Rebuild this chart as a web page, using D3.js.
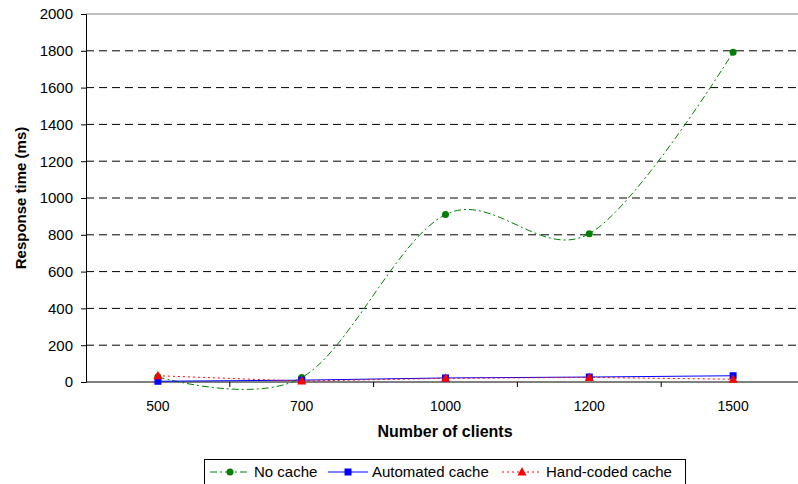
<!DOCTYPE html>
<html>
<head>
<meta charset="utf-8">
<script src="https://cdn.jsdelivr.net/npm/d3@7"></script>
<style>
body { margin: 0; background: #fff; }
svg { display: block; font-family: "Liberation Sans", Arial, sans-serif; }
</style>
</head>
<body>
<svg id="chart" width="798" height="484"></svg>
<script>
"use strict"

var clients    = ["500", "700", "1000", "1200", "1500"];
var noCache    = [28, 24, 910, 806, 1792];
var autoCache  = [4, 10, 22, 27, 34];
var handCache  = [34, 5, 20, 25, 15];
var yTicks     = [0, 200, 400, 600, 800, 1000, 1200, 1400, 1600, 1800, 2000];

var svg = d3.select("#chart");

var plotLeft = 86, plotTop = 14, plotBottom = 382, plotRight = 805;
var FONT = "'Liberation Sans', Arial, sans-serif";

var x = d3.scaleBand().domain(clients).range([plotLeft, plotRight]).padding(0);
var y = d3.scaleLinear().domain([0, 2000]).range([plotBottom, plotTop]);

// gridlines
svg.append("g")
   .selectAll("line")
   .data(yTicks.filter(function(d){ return d > 0 && d < 2000; }))
   .enter()
   .append("line")
   .attr("x1", plotLeft).attr("x2", 798)
   .attr("y1", function(d){ return y(d); })
   .attr("y2", function(d){ return y(d); })
   .style("stroke", "#000")
   .style("stroke-dasharray", "8,5")
   .style("stroke-width", 1);

// top border
svg.append("line")
   .attr("x1", plotLeft).attr("x2", 798)
   .attr("y1", y(2000)).attr("y2", y(2000))
   .style("stroke", "#808080");

// y axis
var yAxis = d3.axisLeft(y).tickValues(yTicks).tickFormat(d3.format("d"))
              .tickSize(5).tickPadding(8);
var gy = svg.append("g")
   .attr("transform", "translate(" + plotLeft + ",0)")
   .call(yAxis);
gy.selectAll("text").style("font-size", "15px").style("fill", "#000")
  .style("font-family", FONT);
gy.select(".domain").style("stroke", "#000");

// x axis
var xAxis = d3.axisBottom(x).tickSize(0).tickPadding(19);
var gx = svg.append("g")
   .attr("transform", "translate(0," + plotBottom + ")")
   .call(xAxis);
gx.selectAll("text").style("font-size", "14px").style("fill", "#000")
  .style("font-family", FONT);
gx.select(".domain").remove();
gx.append("line")
  .attr("x1", plotLeft).attr("x2", 798)
  .style("stroke", "#000");
gx.selectAll(".sep")
  .data(clients)
  .enter()
  .append("line")
  .attr("x1", function(d){ return x(d) + x.bandwidth(); })
  .attr("x2", function(d){ return x(d) + x.bandwidth(); })
  .attr("y1", 0).attr("y2", 5)
  .style("stroke", "#000");

// titles
svg.append("text")
   .attr("transform", "translate(26," + (plotTop + plotBottom) / 2 + ") rotate(-90)")
   .attr("text-anchor", "middle")
   .style("font-weight", "bold")
   .style("font-size", "15px")
   .text("Response time (ms)");

svg.append("text")
   .attr("x", 445).attr("y", 437)
   .attr("text-anchor", "middle")
   .style("font-weight", "bold")
   .style("font-size", "16px")
   .text("Number of clients");

var cx = function(d, i){ return x(clients[i]) + x.bandwidth() / 2; };

var series = [
	{name: "No cache", values: noCache, color: "#008000", dash: "7,3,2,3", curve: d3.curveCardinal.tension(0), marker: "circle"},
	{name: "Automated cache", values: autoCache, color: "#0000ff", dash: null, curve: d3.curveLinear, marker: "square"},
	{name: "Hand-coded cache", values: handCache, color: "#ff0000", dash: "2,3", curve: d3.curveLinear, marker: "triangle"}
];

function drawMarker(sel, kind, color) {
	if (kind === "circle") {
		sel.append("circle").attr("r", 3.5).style("fill", color);
	} else if (kind === "square") {
		sel.append("rect").attr("x", -3.5).attr("y", -3.5)
		   .attr("width", 7).attr("height", 7).style("fill", color);
	} else {
		sel.append("path").attr("d", "M0,-5L4.5,3.5L-4.5,3.5Z").style("fill", color);
	}
}

series.forEach(function(s){
	var line = d3.line()
	  .x(cx)
	  .y(function(d){ return y(d); })
	  .curve(s.curve);
	svg.append("path")
	   .datum(s.values)
	   .attr("d", line)
	   .style("fill", "none")
	   .style("stroke", s.color)
	   .style("stroke-width", 1)
	   .style("stroke-dasharray", s.dash);
	svg.append("g")
	   .selectAll("g")
	   .data(s.values)
	   .enter()
	   .append("g")
	   .attr("transform", function(d, i){ return "translate(" + cx(d, i) + "," + y(d) + ")"; })
	   .each(function(){ drawMarker(d3.select(this), s.marker, s.color); });
});

// legend
var legend = svg.append("g");
legend.append("rect")
   .attr("x", 204.5).attr("y", 459.5)
   .attr("width", 481).attr("height", 30)
   .style("fill", "#fff").style("stroke", "#000");

var legPos = [210, 328, 502];
series.forEach(function(s, i){
	var g = legend.append("g").attr("transform", "translate(" + legPos[i] + ",472)");
	g.append("line")
	 .attr("x1", 0).attr("x2", 40)
	 .style("stroke", s.color)
	 .style("stroke-dasharray", s.dash);
	var m = g.append("g").attr("transform", "translate(20,0)");
	drawMarker(m, s.marker, s.color);
	g.append("text")
	 .attr("x", 44).attr("y", 5)
	 .style("font-size", "15px")
	 .text(s.name);
});
</script>
</body>
</html>
